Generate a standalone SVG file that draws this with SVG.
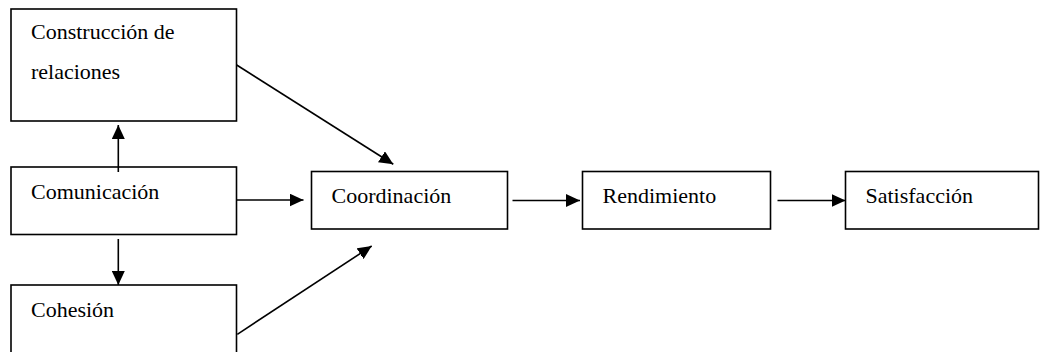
<svg xmlns="http://www.w3.org/2000/svg" width="1040" height="352" viewBox="0 0 1040 352">
<style>
.box{fill:#fff;stroke:#000;stroke-width:1.6}
.lbl{font-family:'Times New Roman','Liberation Serif','DejaVu Serif',serif;font-size:22px;fill:#000}
.con{stroke:#000;stroke-width:1.6;fill:none;marker-end:url(#ah)}
</style>
<defs>
<marker id="ah" markerWidth="14" markerHeight="13" refX="14" refY="6.5" orient="auto" markerUnits="userSpaceOnUse">
<path d="M0,0 L14,6.5 L0,13 Z" fill="#000"/>
</marker>
</defs>
<rect width="1040" height="352" fill="#fff"/>
<g id="construccion"><rect class="box" x="11" y="9" width="225.5" height="112"/><text class="lbl" x="31" y="39">Construcción de</text><text class="lbl" x="31" y="79">relaciones</text></g>
<g id="comunicacion"><rect class="box" x="11" y="167" width="225.5" height="67.5"/><text class="lbl" x="31" y="199">Comunicación</text></g>
<g id="cohesion"><rect class="box" x="11" y="285" width="225.5" height="80"/><text class="lbl" x="31" y="317">Cohesión</text></g>
<g id="coordinacion"><rect class="box" x="311.5" y="171.5" width="196" height="57.5"/><text class="lbl" x="331.5" y="203">Coordinación</text></g>
<g id="rendimiento"><rect class="box" x="582.5" y="171.5" width="188" height="57.5"/><text class="lbl" x="602.5" y="203">Rendimiento</text></g>
<g id="satisfaccion"><rect class="box" x="845.5" y="171.5" width="193" height="57.5"/><text class="lbl" x="865.5" y="203">Satisfacción</text></g>
<g id="connectors">
<line class="con" x1="118.3" y1="172" x2="118.3" y2="125"/>
<line class="con" x1="118.3" y1="239" x2="118.3" y2="285"/>
<line class="con" x1="237" y1="200" x2="303.5" y2="200"/>
<line class="con" x1="512.5" y1="200.5" x2="580" y2="200.5"/>
<line class="con" x1="777.5" y1="200.5" x2="845.5" y2="200.5"/>
<line class="con" x1="236.7" y1="65" x2="393.3" y2="164.3"/>
<line class="con" x1="237.3" y1="334.3" x2="371.7" y2="246"/>
</g>
</svg>
